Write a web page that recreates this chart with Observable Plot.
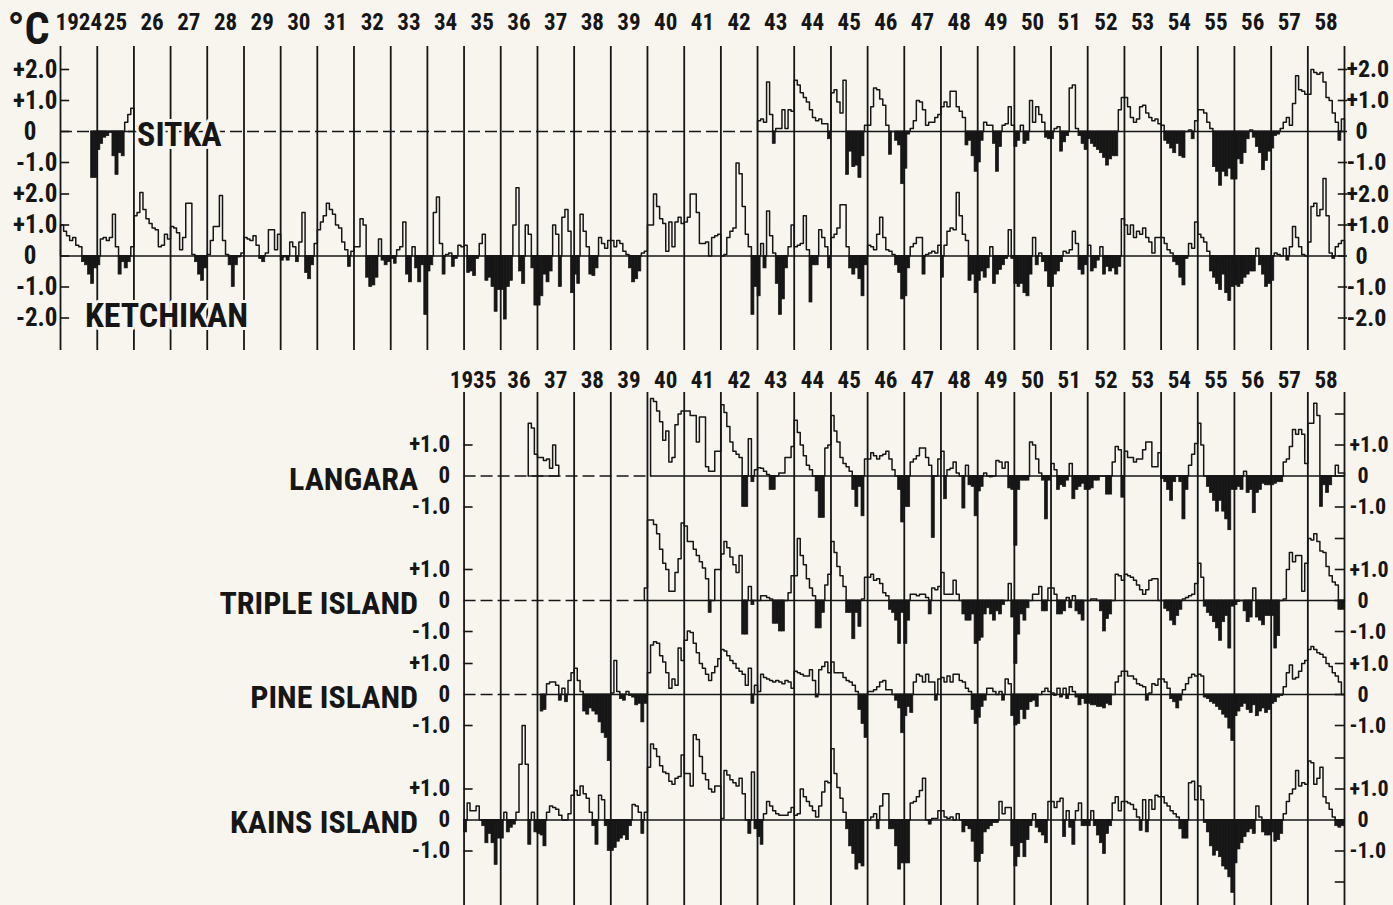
<!DOCTYPE html>
<html>
<head>
<meta charset="utf-8">
<script src="https://cdn.jsdelivr.net/npm/d3@7"></script>
<script src="https://cdn.jsdelivr.net/npm/@observablehq/plot@0.6"></script>
<style>
  html, body { margin: 0; padding: 0; background: #f6f4ec; }
  #chart svg { display: block; }
</style>
</head>
<body>
<div id="chart"></div>
<script>
// ---------------- DATA: monthly temperature anomalies (°C), rows = [year, Jan..Dec] ----------------
const sitka = [
  [1924, null,null,null,null,null,null,null,null,null,null,-1.5,-1.5],
  [1925, -0.6,-0.4,-0.2,-0.15,-0.05,-0.8,-1.4,-0.7,-0.8,0.3,0.55,0.75],
  [1943, 0.35,0.4,0.3,1.6,0.55,-0.4,0.1,0.1,0.7,0.1,0.7,0.65],
  [1944, 1.65,1.5,1.25,1.1,0.95,0.7,0.45,0.35,0.4,0.25,0.25,-0.25],
  [1945, 1.25,1.35,0.95,0.6,1.65,-1.4,-0.65,-1.15,-1.1,-1.5,-0.8,0.2],
  [1946, 0.2,0.8,1.4,1.35,1.05,0.85,0.2,-0.75,0.0,-0.3,-0.45,-1.7],
  [1947, -1.2,-0.1,0.1,0.35,1.0,0.95,0.7,0.2,0.3,0.3,0.45,0.55],
  [1948, 0.8,0.95,0.8,1.3,1.3,0.8,0.65,0.45,-0.45,-0.3,-0.8,-1.3],
  [1949, -1.0,-0.3,0.3,0.2,0.2,-0.4,-1.3,-0.5,0.2,0.25,0.8,0.2],
  [1950, -0.5,-0.3,0.2,-0.4,-0.3,1.0,0.3,0.8,0.55,0.3,-0.2,-0.25],
  [1951, -0.25,0.1,0.15,-0.65,-0.35,-0.15,1.4,1.5,0.1,-0.15,-0.4,-0.6],
  [1952, -0.25,-0.4,-0.5,-0.6,-0.7,-0.85,-1.1,-0.9,-0.8,-0.8,0.7,1.1],
  [1953, 1.1,0.8,0.45,0.3,0.4,0.8,0.85,0.6,0.45,0.35,0.4,0.25],
  [1954, 0.2,-0.3,-0.4,-0.55,-0.7,-0.4,-0.8,-0.85,0.0,0.05,-0.25,0.35],
  [1955, 0.7,0.7,0.6,0.3,0.1,-1.15,-1.3,-1.75,-1.3,-1.45,-1.2,-1.55],
  [1956, -1.55,-0.9,-1.05,-0.7,-0.25,0.05,-0.2,-0.5,-0.7,-1.25,-0.95,-0.65],
  [1957, -0.55,-0.15,-0.1,0.1,0.3,0.45,0.2,0.9,1.8,1.35,1.3,1.2],
  [1958, 1.2,2.0,1.9,1.85,1.9,1.6,1.1,1.0,0.6,0.3,-0.3,0.4]
];
const ketchikan = [
  [1924, 1.0,0.8,0.65,0.5,0.6,0.35,0.3,-0.2,-0.3,-0.6,-0.9,-0.4],
  [1925, -0.3,0.55,0.6,0.5,0.6,1.35,0.3,-0.6,-0.2,-0.4,-0.2,0.3],
  [1926, 1.3,1.4,2.05,1.5,1.2,1.05,0.9,0.85,0.3,0.35,0.7,0.55],
  [1927, 0.95,0.9,0.75,0.2,0.6,1.7,1.7,0.05,-0.2,-0.6,-0.8,-0.4],
  [1928, 0.05,0.5,0.95,0.95,1.95,0.5,0.05,-0.3,-1.0,-0.3,-0.05,0.1],
  [1929, 0.6,0.55,0.5,0.65,0.35,-0.1,-0.2,0.1,0.85,0.85,0.2,0.7],
  [1930, -0.15,-0.05,-0.15,0.45,0.3,-0.2,0.45,1.4,-0.55,-0.75,-0.3,0.4],
  [1931, 0.85,1.1,1.3,1.7,1.5,1.35,1.0,0.9,0.45,0.2,-0.35,0.15],
  [1932, 0.3,0.3,1.2,1.0,-0.7,-1.0,-0.95,-0.7,0.55,-0.15,-0.3,-0.2],
  [1933, -0.1,-0.25,0.2,0.3,1.1,-0.6,-0.85,0.3,-0.4,-0.85,-0.3,-1.9],
  [1934, -0.5,-0.3,1.4,1.9,0.4,-0.6,0.05,0.1,-0.35,-0.1,0.35,0.3],
  [1935, 0.35,-0.55,-0.5,-0.65,-0.1,0.4,0.7,-0.8,-0.7,-1.0,-1.8,-1.1],
  [1936, -1.1,-2.05,-1.0,-0.8,1.0,2.2,-0.5,-0.9,1.0,0.7,-0.4,-1.6],
  [1937, -1.6,-1.3,-0.6,-0.85,-0.5,1.0,0.7,-1.0,1.25,1.5,0.8,-1.2],
  [1938, -0.6,-0.9,1.35,0.8,0.3,-0.6,-0.65,-0.4,0.6,0.4,0.25,0.5],
  [1939, 0.5,0.3,0.5,0.4,0.15,0.05,-0.4,-0.85,-0.75,-0.5,0.1,0.15],
  [1940, 1.0,1.0,2.0,1.6,1.2,1.05,0.15,1.1,0.3,1.1,1.25,1.05],
  [1941, 1.1,1.25,2.0,2.0,1.4,0.4,0.4,0.45,0.0,0.6,0.65,0.7],
  [1942, 0.0,0.05,0.6,0.8,0.9,3.0,2.65,1.6,0.7,0.3,-1.9,-1.0],
  [1943, -1.3,0.4,-0.4,1.45,0.65,0.1,-0.9,-1.9,-1.4,-0.4,0.3,1.0],
  [1944, 0.3,0.35,0.4,1.3,0.2,-1.5,-0.3,-0.3,0.85,0.6,0.3,-0.4],
  [1945, 0.6,0.7,0.9,1.65,1.65,0.3,-0.4,-0.6,-0.4,-0.75,-1.3,-0.3],
  [1946, 0.35,0.3,0.2,0.7,1.25,0.6,0.2,0.15,0.05,-0.3,-0.55,-1.4],
  [1947, -1.3,-0.4,0.3,0.4,0.6,0.6,-0.6,0.05,0.1,0.15,0.1,0.35],
  [1948, -0.7,0.35,0.8,0.9,0.85,2.05,1.3,0.7,0.5,-0.8,-0.6,-1.2],
  [1949, -0.8,-0.5,-0.7,-0.4,0.3,-0.9,-0.6,-0.45,-0.3,-0.1,0.85,-0.1],
  [1950, -0.9,-1.0,-0.9,-1.2,-1.3,-0.6,0.6,-0.3,0.1,-0.2,-0.5,-1.0],
  [1951, -1.0,-0.6,-0.5,-0.2,0.15,0.1,0.2,0.8,0.4,-0.45,-0.6,-0.3],
  [1952, 0.35,-0.5,-0.4,-0.15,0.3,-0.6,-0.35,-0.5,-0.4,-0.6,-0.35,1.2],
  [1953, 1.0,0.7,1.0,0.6,0.8,0.7,0.9,0.6,0.45,0.1,0.6,0.6],
  [1954, 0.6,0.4,0.2,0.1,-0.2,-0.3,-0.7,-0.95,-0.1,0.4,0.25,1.1],
  [1955, 0.7,0.6,0.45,0.15,-0.5,-0.7,-0.9,-1.1,-0.6,-1.2,-1.45,-1.0],
  [1956, -0.95,-1.0,-0.9,-0.7,-0.6,-0.5,-0.5,0.25,-0.3,-0.6,-1.0,-0.9],
  [1957, -0.8,0.1,0.05,0.0,0.25,-0.15,0.3,0.95,0.6,0.3,0.05,0.0],
  [1958, 0.45,1.6,1.7,1.3,1.5,2.5,1.3,0.1,-0.1,0.3,0.4,0.5]
];
const langara = [
  [1936, null,null,null,null,null,null,null,null,null,1.7,1.55,0.7],
  [1937, 0.6,0.6,0.5,0.55,0.25,1.0,0.35,null,null,null,null,null],
  [1940, null,2.5,2.4,2.1,1.75,1.15,1.45,0.45,0.6,1.65,2.0,2.1],
  [1941, 2.1,2.1,1.95,1.95,1.1,1.9,1.9,0.3,0.15,0.15,0.8,0.8],
  [1942, 2.3,2.05,1.6,1.1,0.8,0.7,0.6,-1.0,-1.0,1.2,-0.2,0.2],
  [1943, 0.27,0.25,0.15,0.05,-0.45,-0.45,0.0,0.1,0.1,0.6,0.6,0.95],
  [1944, 1.8,1.4,1.0,0.65,0.35,0.2,0.0,-0.5,-1.35,-1.35,0.9,1.0],
  [1945, 1.95,1.45,1.1,0.6,0.4,0.3,0.15,-0.45,-1.0,-0.35,-1.3,0.55],
  [1946, 0.55,0.75,0.65,0.55,0.65,0.7,0.8,0.55,0.2,0.0,-0.45,-1.5],
  [1947, -1.0,-1.0,0.45,0.55,0.65,0.9,0.9,0.6,0.35,-2.0,0.0,0.55],
  [1948, 0.8,-0.75,0.2,0.25,0.45,0.1,0.0,-1.05,0.35,-0.3,-0.35,-1.3],
  [1949, -0.5,-0.35,0.1,0.0,-0.05,0.0,0.5,0.45,0.25,0.45,-0.4,-0.45],
  [1950, -2.25,-0.45,-0.15,-0.15,-0.15,1.1,1.0,0.55,0.1,-0.15,-1.4,-0.15],
  [1951, 0.4,0.2,-0.45,-0.3,-0.35,-0.15,0.4,-0.75,-0.45,-0.35,-0.25,-0.45],
  [1952, -0.45,-0.4,-0.15,-0.15,0.0,0.0,-0.6,-0.6,0.45,0.95,0.85,-0.7],
  [1953, 0.8,0.6,0.6,0.45,0.55,0.55,0.85,1.1,1.1,0.3,0.3,0.75],
  [1954, -0.1,-0.2,-0.45,-0.8,-0.2,0.0,-0.2,-1.4,-0.45,0.35,0.7,1.05],
  [1955, 1.7,1.0,0.0,-0.35,-0.55,-0.8,-1.15,-0.8,-1.15,-1.4,-1.75,-0.45],
  [1956, -0.45,-0.35,-0.45,0.15,-0.55,-0.45,-1.2,-0.55,-0.45,-0.25,-0.3,-0.3],
  [1957, -0.3,-0.25,-0.2,-0.2,0.45,0.55,0.95,1.5,1.35,1.5,1.35,0.4],
  [1958, 1.7,1.7,2.35,1.95,-1.0,-0.3,-0.55,-0.3,0.0,0.35,0.1,0.1]
];
const tripleIsland = [
  [1939, null,null,null,null,null,null,null,null,null,null,null,0.4],
  [1940, 2.6,2.6,2.45,2.15,1.65,1.2,1.0,0.3,0.3,0.9,1.35,2.5],
  [1941, 2.4,1.9,1.9,1.65,1.45,1.25,1.05,0.7,-0.4,0.0,1.0,1.0],
  [1942, 1.5,1.9,1.7,1.4,1.15,0.9,1.45,-1.1,-1.1,0.45,-0.15,0.0],
  [1943, 0.0,0.15,0.15,0.1,0.05,-0.75,-0.75,-1.0,-1.0,0.0,0.25,0.8],
  [1944, 0.8,2.0,1.45,1.15,0.7,0.4,0.15,-0.9,-0.9,-0.4,0.5,0.85],
  [1945, 1.9,1.55,1.1,0.8,0.45,-0.4,-0.4,-1.25,-0.4,-0.85,0.05,0.75],
  [1946, 0.75,0.85,0.65,0.7,0.55,0.25,0.15,-0.3,-0.4,-0.65,-1.4,-0.4],
  [1947, -1.4,-0.65,0.2,0.2,0.15,0.2,0.2,0.1,-0.45,0.4,0.35,0.45],
  [1948, 0.9,0.2,0.2,0.2,0.65,0.2,0.0,-0.45,-0.65,-0.65,-0.45,-1.4],
  [1949, -1.3,-1.2,-0.45,-0.25,-0.45,-0.65,-0.35,-0.45,-0.15,0.0,0.55,-0.55],
  [1950, -2.05,-1.1,-0.45,-0.65,-0.25,0.0,0.2,0.2,0.45,-0.35,-0.35,0.4],
  [1951, 0.4,0.2,-0.45,-0.45,-0.35,0.1,-0.25,0.15,-0.35,-0.45,-0.65,0.0],
  [1952, 0.0,0.05,0.05,0.0,-0.35,-1.0,-0.6,-0.45,0.0,0.85,0.8,0.65],
  [1953, 0.85,0.8,0.75,0.65,0.5,0.35,0.2,0.35,0.65,0.7,0.7,0.0],
  [1954, 0.0,-0.27,-0.35,-0.65,-0.8,-0.5,-0.3,0.05,0.1,0.15,0.2,0.55],
  [1955, 1.2,0.75,-0.2,-0.4,-0.5,-0.7,-0.9,-1.3,-0.7,-0.5,-1.55,-0.2],
  [1956, -0.15,-0.05,0.0,-0.35,-0.7,-0.55,0.4,-0.55,-0.65,-0.8,-0.5,-0.5],
  [1957, -0.5,-1.55,-1.15,0.0,0.05,1.0,1.55,1.25,1.45,1.45,0.3,1.2],
  [1958, 2.0,1.95,2.15,1.9,1.6,1.55,1.1,0.8,0.6,0.5,-0.3,-0.3]
];
const pineIsland = [
  [1937, null,-0.55,-0.5,0.35,0.4,0.4,0.3,-0.2,0.2,-0.25,0.45,0.7],
  [1938, 0.85,0.45,0.1,-0.55,-0.65,-0.45,-0.55,-0.65,-0.9,-1.25,-1.4,-2.15],
  [1939, 0.05,1.1,0.1,-0.15,-0.2,0.1,-0.05,-0.1,-0.35,-0.3,-0.9,-0.3],
  [1940, 0.7,1.6,1.7,1.65,1.25,1.05,0.7,0.2,0.5,0.3,1.5,1.1],
  [1941, 1.75,2.05,2.0,1.65,1.35,1.0,0.85,0.65,0.45,0.7,0.9,1.15],
  [1942, 1.45,1.4,1.25,1.1,1.0,0.85,0.75,0.65,0.3,0.85,-0.3,0.3],
  [1943, 0.1,0.65,0.55,0.5,0.45,0.4,0.45,0.4,0.35,0.45,0.4,0.2],
  [1944, 0.75,0.7,0.65,0.6,0.6,0.8,0.45,-0.1,0.8,0.9,1.05,0.7],
  [1945, 1.05,0.7,0.7,0.7,0.55,0.45,0.4,0.3,0.1,-0.5,-0.95,-1.4],
  [1946, 0.1,0.1,0.15,0.25,0.4,0.45,0.15,0.15,0.0,-0.2,-0.45,-1.25],
  [1947, -0.7,-0.4,-0.6,0.4,0.65,0.6,0.4,0.65,0.4,0.4,-0.2,0.5],
  [1948, 0.55,0.4,0.6,0.4,0.65,0.65,0.45,0.4,0.2,0.1,-0.5,-0.95],
  [1949, -0.75,-0.4,-0.2,0.2,0.2,0.1,0.0,0.1,-0.2,0.5,0.35,-0.7],
  [1950, -1.0,-0.95,-0.5,-0.8,-0.5,-0.25,-0.2,-0.4,0.0,0.1,0.2,0.1],
  [1951, 0.05,-0.05,0.2,-0.1,0.2,-0.15,0.25,0.1,-0.1,-0.35,-0.15,-0.3],
  [1952, -0.3,-0.35,-0.35,-0.4,-0.4,-0.45,-0.3,-0.35,0.0,0.4,0.6,0.75],
  [1953, 0.75,0.6,0.6,0.5,0.35,0.3,0.25,-0.2,0.05,0.35,0.3,0.5],
  [1954, 0.5,0.4,0.2,-0.15,-0.25,-0.45,-0.2,0.15,0.35,0.55,0.65,0.6],
  [1955, 0.65,0.6,-0.1,-0.15,-0.25,-0.3,-0.4,-0.5,-0.65,-0.75,-1.1,-1.5],
  [1956, -0.7,-0.55,-0.4,-0.3,-0.5,-0.6,-0.35,-0.7,-0.55,-0.45,-0.6,-0.5],
  [1957, -0.3,-0.25,-0.1,-0.05,0.25,0.7,0.95,0.5,0.55,0.75,1.0,1.1],
  [1958, 1.45,1.55,1.45,1.35,1.3,1.2,1.0,0.9,0.7,0.6,0.4,0.0]
];
const kainsIsland = [
  [1935, -0.4,0.55,0.3,0.3,0.45,0.0,-0.2,-0.75,-0.45,-0.75,-1.45,-0.6],
  [1936, -0.6,0.25,-0.4,-0.25,-0.15,0.25,1.8,3.05,1.8,-0.8,0.25,-0.4],
  [1937, -0.45,-0.5,-0.85,0.25,0.45,0.4,0.35,0.15,0.0,0.0,0.2,0.8],
  [1938, 0.95,0.8,1.1,0.85,0.7,0.25,-0.2,-0.8,0.8,0.65,-0.2,-1.0],
  [1939, -1.0,-0.9,-0.7,-0.6,-0.5,-0.65,-0.2,0.5,0.45,0.25,-0.45,0.25],
  [1940, 1.7,2.45,2.3,2.05,1.75,1.55,1.5,1.25,1.15,1.35,1.4,2.1],
  [1941, 1.5,1.5,1.1,2.75,2.6,2.05,1.5,1.3,1.0,0.9,1.1,1.1],
  [1942, 0.05,1.6,1.45,1.3,1.2,1.1,1.35,0.85,0.0,-0.45,1.55,-0.3],
  [1943, -0.55,-0.8,0.2,0.6,0.45,0.3,0.2,0.15,0.15,0.15,0.25,0.4],
  [1944, 0.15,0.2,1.0,0.75,0.6,0.45,0.3,0.1,0.45,0.9,1.25,1.2],
  [1945, 2.3,1.5,1.05,0.7,0.25,-0.3,-0.85,-1.1,-1.6,-1.4,-1.5,0.0],
  [1946, 0.0,0.1,0.2,-0.3,0.45,0.85,0.85,-0.3,-0.3,-0.85,-1.6,-1.4],
  [1947, -1.4,-1.4,0.55,0.6,0.75,0.95,1.35,0.0,-0.15,0.05,0.05,0.3],
  [1948, 0.3,0.1,0.05,0.1,0.0,0.2,0.0,-0.4,-0.2,-0.3,-0.7,-1.35],
  [1949, -1.35,-1.1,-0.4,-0.3,-0.2,-0.1,-0.1,0.6,0.2,0.4,0.4,-0.85],
  [1950, -1.5,-1.2,-0.75,-1.2,-0.65,-0.2,0.2,-0.25,-0.4,-0.5,-0.75,0.6],
  [1951, 0.6,0.4,0.6,0.7,-0.55,0.3,-0.25,-0.8,0.3,0.55,-0.2,-0.2],
  [1952, -0.2,0.3,-0.2,-0.5,-0.75,-1.1,-0.45,-0.2,0.55,0.75,0.3,0.6],
  [1953, 0.6,0.55,0.5,0.35,0.1,-0.35,0.65,-0.4,0.65,0.35,0.8,0.75],
  [1954, 0.75,0.55,0.45,0.3,0.2,0.1,-0.3,-0.6,-0.6,1.2,1.25,0.65],
  [1955, 1.1,0.65,-0.1,-0.4,-0.85,-1.15,-1.0,-1.2,-1.5,-1.6,-1.85,-2.35],
  [1956, -1.4,-0.95,-0.75,-0.55,-0.4,-0.3,-0.45,0.45,0.1,-0.4,-0.5,-0.5],
  [1957, -0.4,-0.7,-0.65,-0.45,0.2,0.6,0.85,1.0,1.6,1.1,1.2,1.15],
  [1958, 1.9,1.85,1.15,1.35,1.7,0.75,0.55,0.35,0.1,-0.2,-0.25,-0.2]
];

const topStations = ["SITKA", "KETCHIKAN"];
const bottomStations = ["LANGARA", "TRIPLE ISLAND", "PINE ISLAND", "KAINS ISLAND"];
const topYearLabels = ["1924","25","26","27","28","29","30","31","32","33","34","35","36","37","38","39","40","41","42","43","44","45","46","47","48","49","50","51","52","53","54","55","56","57","58"];
const bottomYearLabels = ["1935","36","37","38","39","40","41","42","43","44","45","46","47","48","49","50","51","52","53","54","55","56","57","58"];
const topTickValues = {SITKA: [2, 1, 0, -1], KETCHIKAN: [2, 1, 0, -1, -2]};
const bottomRightTickValues = {"LANGARA": [2, 1, 0, -1], "TRIPLE ISLAND": [2, 1, 0, -1], "PINE ISLAND": [1, 0, -1], "KAINS ISLAND": [2, 1, 0, -1, -2]};
const bottomLabelValues = [1, 0, -1];

// ---------------- LAYOUT (pixel placement of each station's zero line) ----------------
const PX_PER_DEG = 31;
const REF_PX = 131;
const ZERO_PX = {"SITKA": 131, "KETCHIKAN": 255.5, "LANGARA": 475.5, "TRIPLE ISLAND": 600, "PINE ISLAND": 694, "KAINS ISLAND": 819.5};
const degAt = px => (REF_PX - px) / PX_PER_DEG;      // pixel row -> y-scale value
const off = s => degAt(ZERO_PX[s]);                  // station baseline on y scale
const INK = "#161616", BG = "#f7f5ee";
const FONT = '"Liberation Sans Narrow","Arial Narrow","Roboto Condensed","DejaVu Sans Condensed","Liberation Sans",sans-serif';

const utc = (y, m = 0) => new Date(Date.UTC(y, m, 1));
const START_TOP = utc(1924), START_BOTTOM = utc(1935), END = utc(1959);

// ---------------- records ----------------
const series = {"SITKA": sitka, "KETCHIKAN": ketchikan, "LANGARA": langara,
  "TRIPLE ISLAND": tripleIsland, "PINE ISLAND": pineIsland, "KAINS ISLAND": kainsIsland};
const records = [];
for (const [station, rows] of Object.entries(series)) {
  for (const [year, ...vals] of rows) {
    vals.forEach((v, m) => { if (v != null) records.push({station, date: utc(year, m), end: utc(year, m + 1), v}); });
  }
}
const negatives = records.filter(r => r.v < 0);

const linePts = [], zeroSolid = [], zeroDashed = [];
for (const station of [...topStations, ...bottomStations]) {
  const recs = records.filter(r => r.station === station).sort((a, b) => a.date - b.date);
  const segs = [];
  for (const r of recs) {
    const last = segs[segs.length - 1];
    if (last && +last[last.length - 1].end === +r.date) last.push(r); else segs.push([r]);
  }
  segs.forEach((seg, i) => {
    const id = station + "-" + i;
    const first = seg[0], lastR = seg[seg.length - 1];
    linePts.push({seg: id, station, date: first.date, y: 0});
    for (const r of seg) linePts.push({seg: id, station, date: r.date, y: Math.max(r.v, 0)});
    linePts.push({seg: id, station, date: lastR.end, y: Math.max(lastR.v, 0)});
    linePts.push({seg: id, station, date: lastR.end, y: 0});
    zeroSolid.push({station, x1: first.date, x2: i === segs.length - 1 ? END : lastR.end});
  });
  const panelStart = topStations.includes(station) ? START_TOP : START_BOTTOM;
  const lastStart = segs[segs.length - 1][0].date;
  if (lastStart > panelStart) zeroDashed.push({station, x1: panelStart, x2: lastStart});
}

const fmt = v => v === 0 ? "0" : (v > 0 ? "+" : "-") + Math.abs(v).toFixed(1);
const topTicks = topStations.flatMap(s => topTickValues[s].map(v => ({station: s, v})));
const bottomRightTicks = bottomStations.flatMap(s => bottomRightTickValues[s].map(v => ({station: s, v})));
const bottomLabels = bottomStations.flatMap(s => bottomLabelValues.map(v => ({station: s, v})));
const topYears = d3.range(1924, 1960);
const bottomYears = d3.range(1935, 1960);

const stationNames = [
  {station: "SITKA", text: "SITKA", x: utc(1926, 1), dy: 4, anchor: "start"},
  {station: "KETCHIKAN", text: "KETCHIKAN", x: utc(1924, 8), dy: 60, anchor: "start"},
  {station: "LANGARA", text: "LANGARA", x: START_BOTTOM, dy: 4, anchor: "end"},
  {station: "TRIPLE ISLAND", text: "TRIPLE ISLAND", x: START_BOTTOM, dy: 3, anchor: "end"},
  {station: "PINE ISLAND", text: "PINE ISLAND", x: START_BOTTOM, dy: 3, anchor: "end"},
  {station: "KAINS ISLAND", text: "KAINS ISLAND", x: START_BOTTOM, dy: 3, anchor: "end"}
];

const chart = Plot.plot({
  width: 1393, height: 905,
  marginLeft: 60, marginRight: 49, marginTop: 0, marginBottom: 0,
  style: {background: BG, color: INK, fontFamily: FONT, fontWeight: "bold"},
  x: {type: "utc", domain: [START_TOP, END], axis: null},
  y: {domain: [degAt(905), degAt(0)], axis: null},
  marks: [
    // year boundary lines (also left/right axes)
    Plot.ruleX(topYears, {x: d => utc(d), y1: () => degAt(46), y2: () => degAt(350), stroke: INK, strokeWidth: 1.8}),
    Plot.ruleX(bottomYears, {x: d => utc(d), y1: () => degAt(392), y2: () => degAt(905), stroke: INK, strokeWidth: 1.8}),
    // zero lines
    Plot.ruleY(zeroDashed, {y: d => off(d.station), x1: "x1", x2: "x2", stroke: INK, strokeWidth: 1.4, strokeDasharray: "12,5"}),
    Plot.ruleY(zeroSolid, {y: d => off(d.station), x1: "x1", x2: "x2", stroke: INK, strokeWidth: 1.4}),
    // negative anomalies: filled bars
    Plot.rect(negatives, {x1: "date", x2: "end", y1: d => off(d.station), y2: d => off(d.station) + d.v, fill: INK, stroke: INK, strokeWidth: 0.7}),
    // positive anomalies: step outline
    Plot.line(linePts, {x: "date", y: d => off(d.station) + d.y, z: "seg", curve: "step-after", stroke: INK, strokeWidth: 1.5}),
    // axis ticks
    Plot.ruleY(topTicks, {y: d => off(d.station) + d.v, x1: () => utc(1924, 0), x2: () => utc(1924, 3), stroke: INK, strokeWidth: 1.6}),
    Plot.ruleY(topTicks, {y: d => off(d.station) + d.v, x1: () => utc(1958, 9), x2: () => END, dx: 3, stroke: INK, strokeWidth: 1.6}),
    Plot.ruleY(bottomStations.flatMap(s => [1, -1].map(v => ({station: s, v}))), {y: d => off(d.station) + d.v, x1: () => START_BOTTOM, x2: () => utc(1935, 3), stroke: INK, strokeWidth: 1.6}),
    Plot.ruleY(bottomRightTicks, {y: d => off(d.station) + d.v, x1: () => utc(1958, 9), x2: () => END, stroke: INK, strokeWidth: 1.6}),
    // year labels
    Plot.text(topYearLabels, {x: (d, i) => utc(1924 + i, 6), y: () => degAt(22), text: d => d, fontSize: 23, fontWeight: "bold", fill: INK}),
    Plot.text(bottomYearLabels, {x: (d, i) => i === 0 ? utc(1935, 3) : utc(1935 + i, 6), y: () => degAt(380), text: d => d, fontSize: 23, fontWeight: "bold", fill: INK}),
    // y labels, top panel
    Plot.text(topTicks.filter(d => d.v !== 0), {x: () => START_TOP, y: d => off(d.station) + d.v, text: d => fmt(d.v), dx: -3, textAnchor: "end", fontSize: 25, fontWeight: "bold", fill: INK}),
    Plot.text(topTicks.filter(d => d.v === 0), {x: () => START_TOP, y: d => off(d.station), text: d => fmt(d.v), dx: -24, textAnchor: "end", fontSize: 25, fontWeight: "bold", fill: INK}),
    Plot.text(topTicks.filter(d => d.v !== 0), {x: () => END, y: d => off(d.station) + d.v, text: d => fmt(d.v), dx: 2, textAnchor: "start", fontSize: 24, fontWeight: "bold", fill: INK}),
    Plot.text(topTicks.filter(d => d.v === 0), {x: () => END, y: d => off(d.station), text: d => fmt(d.v), dx: 11, textAnchor: "start", fontSize: 24, fontWeight: "bold", fill: INK}),
    // y labels, bottom panel
    Plot.text(bottomLabels, {x: () => START_BOTTOM, y: d => off(d.station) + d.v, text: d => fmt(d.v), dx: -14, textAnchor: "end", fontSize: 23, fontWeight: "bold", fill: INK}),
    Plot.text(bottomLabels.filter(d => d.v !== 0), {x: () => END, y: d => off(d.station) + d.v, text: d => fmt(d.v), dx: 5, textAnchor: "start", fontSize: 22, fontWeight: "bold", fill: INK}),
    Plot.text(bottomLabels.filter(d => d.v === 0), {x: () => END, y: d => off(d.station), text: d => fmt(d.v), dx: 13, textAnchor: "start", fontSize: 22, fontWeight: "bold", fill: INK}),
    // station names
    Plot.text(stationNames.filter(d => d.anchor === "start"), {x: "x", y: d => off(d.station) - d.dy / PX_PER_DEG, text: "text", textAnchor: "start", fontSize: 34, fontWeight: "bold", fill: INK, stroke: BG, strokeWidth: 6}),
    Plot.text(stationNames.filter(d => d.anchor === "end"), {x: "x", y: d => off(d.station) - d.dy / PX_PER_DEG, text: "text", textAnchor: "end", dx: -46, fontSize: 32, fontWeight: "bold", fill: INK, stroke: BG, strokeWidth: 6}),
    // unit
    Plot.text(["°C"], {x: () => START_TOP, y: () => degAt(29), text: d => d, dx: -53, textAnchor: "start", fontSize: 44, fontWeight: "bold", fill: INK})
  ]
});
document.getElementById("chart").append(chart);
</script>
</body>
</html>
